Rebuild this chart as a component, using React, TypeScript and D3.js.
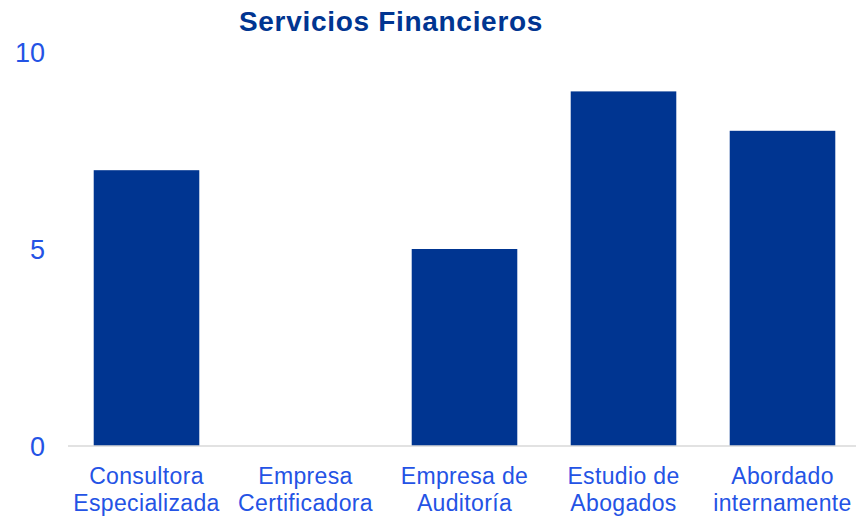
import React from "react";
import * as d3 from "d3";

const categories: string[][] = [
  ["Consultora", "Especializada"],
  ["Empresa", "Certificadora"],
  ["Empresa de", "Auditoría"],
  ["Estudio de", "Abogados"],
  ["Abordado", "internamente"],
];
const values: number[] = [7, 0, 5, 9, 8];
const yTicks: number[] = [0, 5, 10];
const title = "Servicios Financieros";

const W = 856;
const H = 518;

export default function App() {
  const keys = categories.map((c) => c.join(" "));
  const x = d3
    .scaleBand<string>()
    .domain(keys)
    .range([67, 862])
    .paddingInner(0.336)
    .paddingOuter(0.168);
  const y = d3.scaleLinear().domain([0, 10]).range([446, 52]);
  const font = "Liberation Sans, Arial, sans-serif";
  const textBlue = "#2453E5";
  const barBlue = "#003591";

  return (
    <svg
      width={W}
      height={H}
      style={{ position: "absolute", left: 0, top: 0, background: "#fff" }}
      fontFamily={font}
    >
      <text
        x={391}
        y={31}
        textAnchor="middle"
        fontSize={28}
        fontWeight="bold"
        fill={barBlue}
        letterSpacing={0.7}
      >
        {title}
      </text>
      {yTicks.map((t) => (
        <text
          key={t}
          x={45}
          y={y(t)}
          dy="0.36em"
          textAnchor="end"
          fontSize={27}
          fill={textBlue}
        >
          {t}
        </text>
      ))}
      {values.map((v, i) => (
        <rect
          key={keys[i]}
          x={x(keys[i])}
          y={y(v)}
          width={x.bandwidth()}
          height={y(0) - y(v)}
          fill={barBlue}
        />
      ))}
      <line x1={68} x2={856} y1={y(0)} y2={y(0)} stroke="#d9d9d9" strokeWidth={1.5} />
      {categories.map((lines, i) => (
        <text
          key={keys[i]}
          x={(x(keys[i]) as number) + x.bandwidth() / 2}
          y={484}
          textAnchor="middle"
          fontSize={23}
          fill={textBlue}
          letterSpacing={0.35}
        >
          {lines.map((l, j) => (
            <tspan key={j} x={(x(keys[i]) as number) + x.bandwidth() / 2} dy={j === 0 ? 0 : 26.5}>
              {l}
            </tspan>
          ))}
        </text>
      ))}
    </svg>
  );
}
